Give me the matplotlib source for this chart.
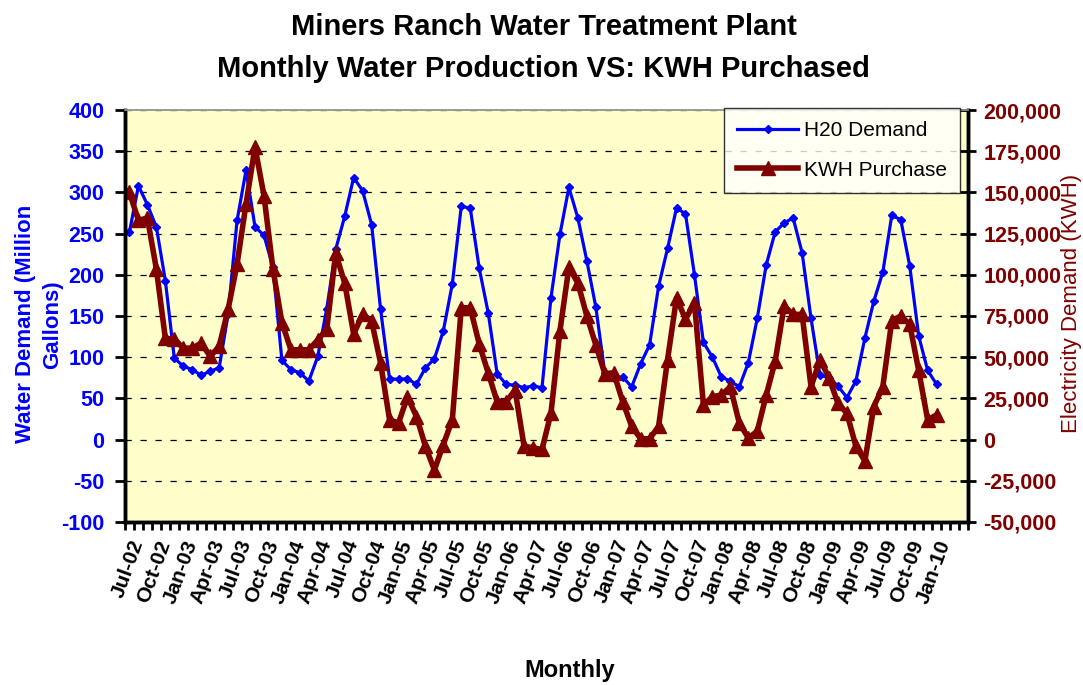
import matplotlib
matplotlib.use("Agg")
import matplotlib.pyplot as plt
from matplotlib.ticker import FuncFormatter, MultipleLocator, FixedLocator

plt.rcParams['font.family'] = ['Liberation Sans', 'DejaVu Sans']

# monthly data, Jul-02 .. Jan-10
h2o_demand = [
    252, 308, 285, 258, 193, 99, 89, 85, 78, 83, 87, 152,
    266, 327, 258, 248, 209, 96, 85, 81, 71, 101, 159, 231,
    271, 318, 302, 261, 158, 74, 73, 74, 67, 87, 98, 132,
    189, 283, 281, 208, 154, 80, 67, 66, 63, 65, 63, 172,
    249, 306, 269, 217, 161, 81, 75, 76, 64, 92, 115, 186,
    232, 281, 274, 200, 118, 100, 76, 71, 64, 93, 147, 212,
    252, 263, 269, 227, 147, 78, 75, 65, 51, 71, 123, 168,
    203, 272, 267, 211, 126, 84, 67,
]
kwh_purchase = [
    150000, 133000, 134500, 103500, 61500, 61000, 55500, 55500, 58500, 50500, 56500, 79000,
    106500, 143000, 177500, 148000, 103500, 71000, 54500, 54500, 54500, 60500, 67000, 113000,
    95000, 64000, 76000, 72000, 46500, 12000, 10000, 26000, 14000, -4000, -18500, -3000,
    12000, 80000, 80000, 58000, 40500, 23000, 23000, 30000, -4000, -5000, -6000, 16000,
    66000, 104500, 95000, 75000, 57500, 40000, 40500, 23000, 8000, 500, 500, 8000,
    48500, 86000, 73000, 83000, 21000, 26000, 27000, 32000, 10000, 1000, 5000, 27000,
    47500, 81000, 76000, 76000, 32000, 48500, 37500, 22000, 16000, -4000, -13000, 20000,
    32000, 72000, 75000, 70000, 42000, 12000, 15000,
]
# category labels shown every third month (as printed on the original)
tick_labels = [
    'Jul-02', 'Oct-02', 'Jan-03', 'Apr-03', 'Jul-03', 'Oct-03', 'Jan-04', 'Apr-04',
    'Jul-04', 'Oct-04', 'Jan-05', 'Apr-05', 'Jul-05', 'Oct-05', 'Jan-06', 'Apr-07',
    'Jul-06', 'Oct-06', 'Jan-07', 'Apr-07', 'Jul-07', 'Oct-07', 'Jan-08', 'Apr-08',
    'Jul-08', 'Oct-08', 'Jan-09', 'Apr-09', 'Jul-09', 'Oct-09', 'Jan-10',
]
n_categories = 94

months = list(range(len(h2o_demand)))
blue = '#0000FF'
maroon = '#800000'

fig = plt.figure(figsize=(10.83, 6.85), dpi=100)
ax1 = fig.add_axes([0.1154, 0.238, 0.7784, 0.6014])
ax1.set_facecolor('#FFFFCC')
ax2 = ax1.twinx()

l1, = ax1.plot(months, h2o_demand, color=blue, lw=2.3, marker='D', ms=4.5,
               mec=blue, mfc=blue, label='H20 Demand')
l2, = ax2.plot(months, kwh_purchase, color=maroon, lw=4, marker='^', ms=9.5,
               mec=maroon, mfc=maroon, label='KWH Purchase')

ax1.set_xlim(-0.5, n_categories - 0.5)
ax1.set_ylim(-100, 400)
ax2.set_ylim(-50000, 200000)
ax1.yaxis.set_major_locator(MultipleLocator(50))
ax1.yaxis.set_major_formatter(FuncFormatter(lambda v, p: f'{int(v)}'))
ax2.yaxis.set_major_locator(MultipleLocator(25000))
ax2.yaxis.set_major_formatter(FuncFormatter(lambda v, p: f'{int(v):,}'))

ax1.grid(axis='y', color='black', linestyle=(0, (5, 7)), lw=0.9)
ax1.set_axisbelow(True)

# x axis: a tick at each month boundary, a label every third month
ax1.xaxis.set_minor_locator(FixedLocator([i - 0.5 for i in range(n_categories + 1)]))
ax1.set_xticks(list(range(0, 3 * len(tick_labels), 3)))
ax1.set_xticklabels(tick_labels, rotation=70, ha='right', va='top',
                    rotation_mode='anchor', fontsize=15, fontweight='bold')
ax1.tick_params(axis='x', which='major', length=0, pad=11)
ax1.tick_params(axis='x', which='minor', length=6, width=2, direction='out')

ax1.tick_params(axis='y', which='major', length=7, width=2, direction='out',
                labelsize=15.5, labelcolor=blue, pad=8)
for t in ax1.get_yticklabels():
    t.set_fontweight('bold')
ax2.tick_params(axis='y', which='major', length=12, width=2, direction='inout',
                labelsize=15.5, labelcolor=maroon, pad=5)
for t in ax2.get_yticklabels():
    t.set_fontweight('bold')

for ax in (ax1, ax2):
    for side in ('left', 'right', 'bottom'):
        ax.spines[side].set_linewidth(2.5)
        ax.spines[side].set_color('black')
    ax.spines['top'].set_color('#999999')
    ax.spines['top'].set_linewidth(1.2)

ax1.set_ylabel('Water Demand (Million\nGallons)', color=blue, fontsize=16,
               fontweight='bold', linespacing=1.4)
ax1.yaxis.set_label_coords(-0.073, 0.48)
ax2.set_ylabel('Electricity Demand (KWH)', color=maroon, fontsize=16)
ax2.yaxis.set_label_coords(1.11, 0.53)
ax1.set_xlabel('Monthly', fontsize=17, fontweight='bold')
ax1.xaxis.set_label_coords(0.527, -0.333)

fig.text(0.502, 0.96, 'Miners Ranch Water Treatment Plant', ha='center',
         va='center', fontsize=21, fontweight='bold')
fig.text(0.502, 0.899, 'Monthly Water Production VS: KWH Purchased', ha='center',
         va='center', fontsize=21, fontweight='bold')

leg = ax2.legend(handles=[l1, l2], loc='upper right', bbox_to_anchor=(0.9905, 1.005),
                 fontsize=15, frameon=True, fancybox=False, handlelength=2.9,
                 handletextpad=0.3, labelspacing=1.0, borderpad=0.62,
                 borderaxespad=0)
leg.get_frame().set_edgecolor('black')
leg.get_frame().set_linewidth(1.0)

fig.savefig('out.png', dpi=100)
